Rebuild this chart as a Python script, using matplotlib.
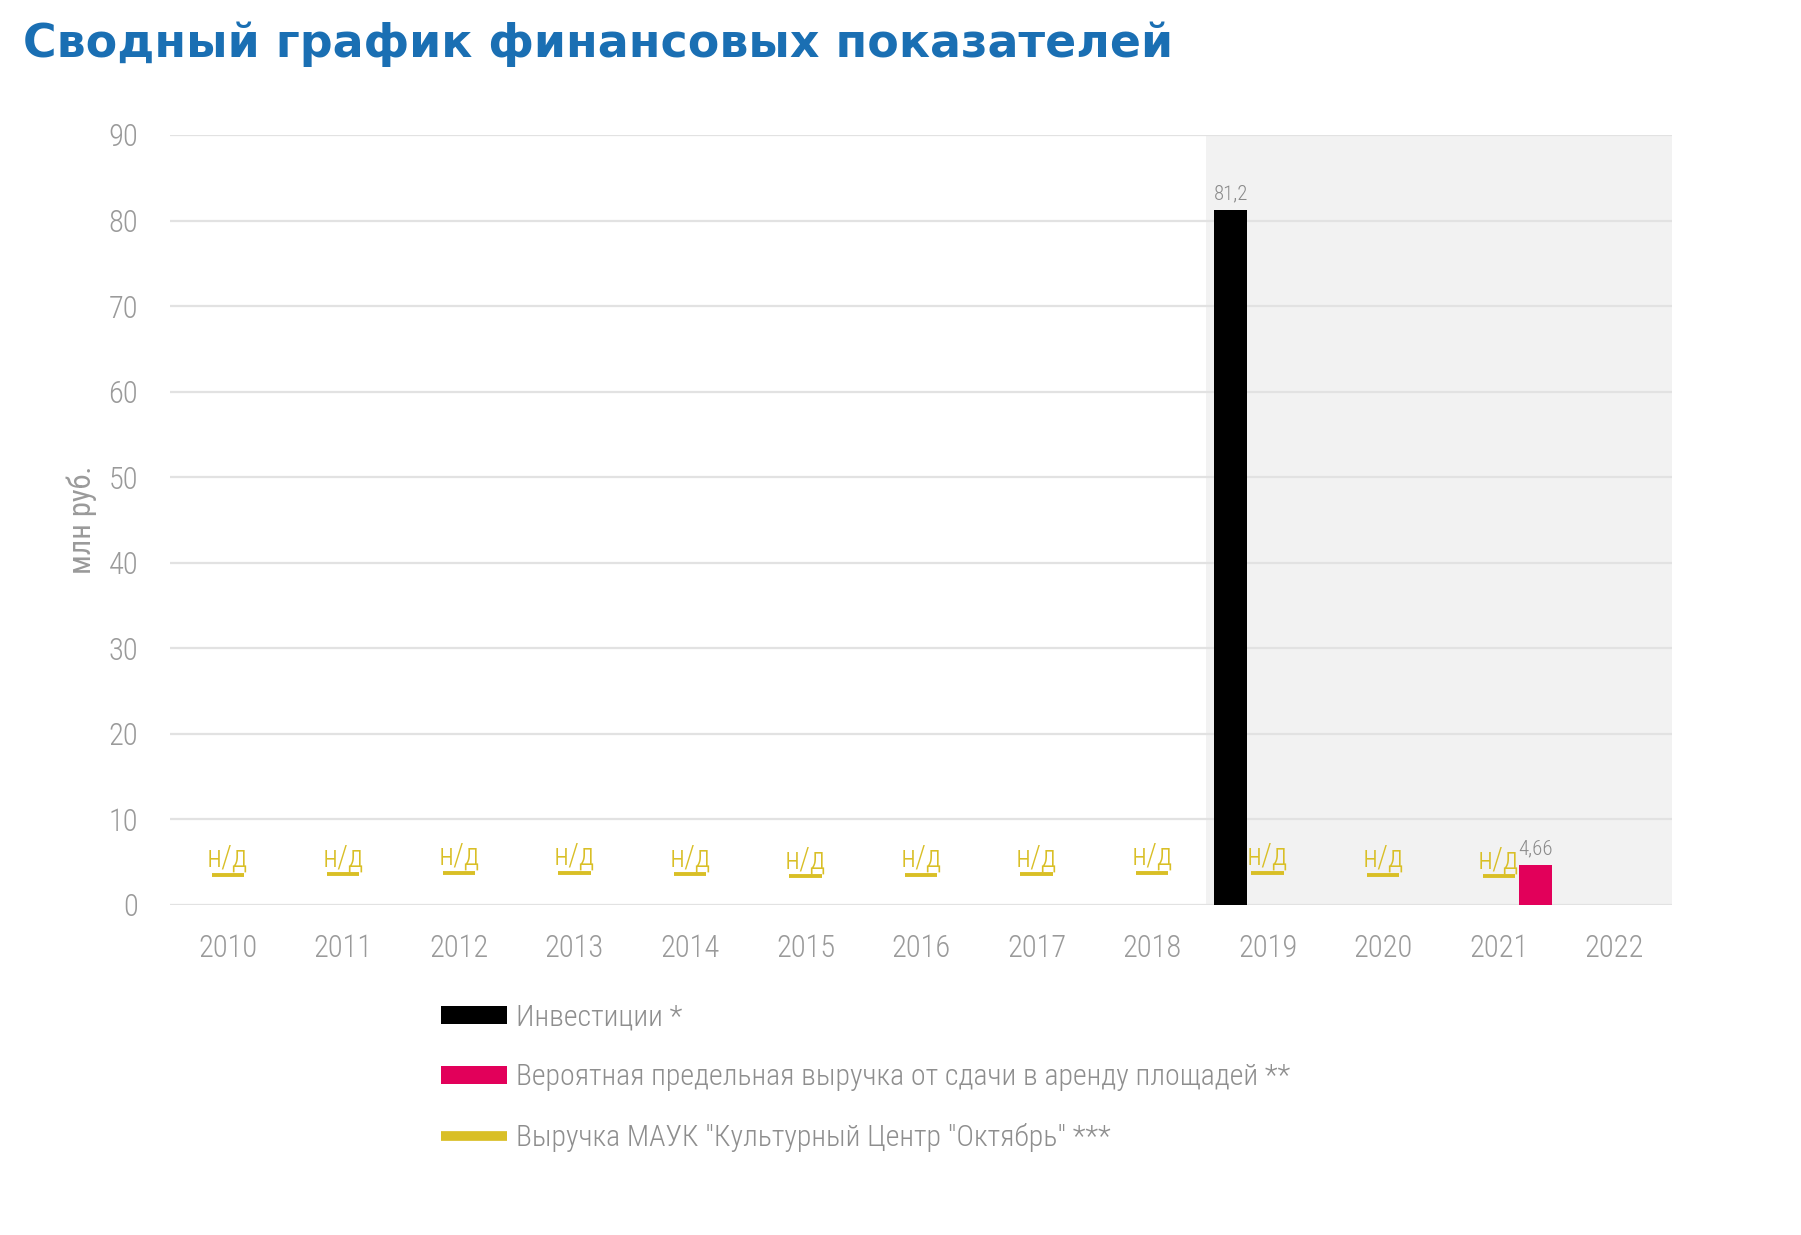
import numpy as np
import matplotlib
matplotlib.use('Agg')
import matplotlib.pyplot as plt
from matplotlib import font_manager

# данные графика
years = [2010, 2011, 2012, 2013, 2014, 2015, 2016, 2017, 2018, 2019, 2020, 2021, 2022]
investments = [np.nan] * 9 + [81.2, np.nan, np.nan, np.nan]
rent_revenue = [np.nan] * 11 + [4.66, np.nan]
mauk_revenue = [3.5, 3.6, 3.75, 3.75, 3.6, 3.35, 3.5, 3.6, 3.75, 3.75, 3.5, 3.35, np.nan]
mauk_labels = ["н/д"] * 12 + [""]

legend_labels = ["Инвестиции *",
                 "Вероятная предельная выручка от сдачи в аренду площадей **",
                 "Выручка МАУК \"Культурный Центр \"Октябрь\" ***"]
title = "Сводный график финансовых показателей"
y_label = "млн руб."


def pick_font():
    names = {f.name for f in font_manager.fontManager.ttflist}
    for cand in ["Roboto Condensed", "Liberation Sans Narrow", "Roboto", "DejaVu Sans"]:
        if cand in names:
            return cand
    return "DejaVu Sans"


def main():
    font = pick_font()
    plt.rcParams['font.family'] = [font, 'DejaVu Sans']
    plt.rcParams['font.weight'] = 'light'

    gray_txt = '#9a9a9a'
    c_inv = '#000000'
    c_rent = '#e2005a'
    c_mauk = '#d9bf26'

    fig = plt.figure(figsize=(18.01, 12.35), dpi=100)
    ax = fig.add_axes([170 / 1801, 1 - 905 / 1235, (1672 - 170) / 1801, (905 - 135) / 1235])

    x = np.arange(len(years))
    w = 0.29

    # серая подложка для 2019-2022
    ax.axvspan(8.47, 12.5, color='#f2f2f2', zorder=0, lw=0)

    inv = np.array(investments)
    m = ~np.isnan(inv)
    b1 = ax.bar(x[m] - 0.32, inv[m], width=w, color=c_inv, zorder=3, label=legend_labels[0])
    ax.bar_label(b1, labels=[f"{v:.1f}".replace('.', ',') for v in inv[m]],
                 padding=5, fontsize=15, color='#8a8a8a')

    rent = np.array(rent_revenue)
    m = ~np.isnan(rent)
    b2 = ax.bar(x[m] + 0.32, rent[m], width=w, color=c_rent, zorder=3, label=legend_labels[1])
    ax.bar_label(b2, labels=[f"{v:.2f}".replace('.', ',') for v in rent[m]],
                 padding=5, fontsize=15, color='#8a8a8a')

    mauk = np.array(mauk_revenue)
    m = ~np.isnan(mauk)
    ln = ax.hlines(mauk[m], x[m] - 0.14, x[m] + 0.14, colors=c_mauk, linewidth=2.8,
                   zorder=4, label=legend_labels[2])
    for xi, yi, t in zip(x[m], mauk[m], np.array(mauk_labels)[m]):
        ax.annotate(t, (xi, yi), xytext=(0, 1.5), textcoords='offset points',
                    ha='center', va='bottom', fontsize=22, color=c_mauk, zorder=5)

    ax.set_xlim(-0.5, 12.5)
    ax.set_ylim(0, 90)
    ax.set_yticks(np.arange(0, 91, 10))
    ax.set_xticks(x)
    ax.set_xticklabels([str(y) for y in years])
    ax.grid(True, axis='y', color='#e2e2e2', linewidth=1.6, zorder=1)
    ax.set_axisbelow(True)
    for s in ax.spines.values():
        s.set_visible(False)
    ax.tick_params(axis='both', length=0, labelsize=22, colors=gray_txt)
    ax.tick_params(axis='y', pad=23)
    ax.tick_params(axis='x', pad=21)
    ax.patch.set_alpha(0)

    ax.set_ylabel(y_label, fontsize=22, color=gray_txt)
    ax.yaxis.set_label_coords(-(170 - 97) / (1672 - 170), 1 - (520 - 135) / (905 - 135))

    fig.text(23 / 1801, 1 - 44 / 1235, title, fontsize=33, fontweight='bold',
             color='#1a6fb3', va='center', ha='left', family='DejaVu Sans')

    leg = fig.legend(handles=[b1, b2, ln], labels=legend_labels, loc='upper left',
                     bbox_to_anchor=(441 / 1801, 1 - 1004 / 1235), frameon=False,
                     fontsize=21.5, handlelength=2.2, handleheight=0.55,
                     handletextpad=0.3, labelspacing=1.05, borderpad=0,
                     borderaxespad=0)
    for t in leg.get_texts():
        t.set_color('#8e8e8e')
    h = leg.legend_handles[2]
    h.set_linewidth(7)
    if hasattr(h, 'set_solid_capstyle'):
        h.set_solid_capstyle('round')
    elif hasattr(h, 'set_capstyle'):
        h.set_capstyle('round')

    fig.savefig('out.png', dpi=100)


if __name__ == "__main__":
    main()
